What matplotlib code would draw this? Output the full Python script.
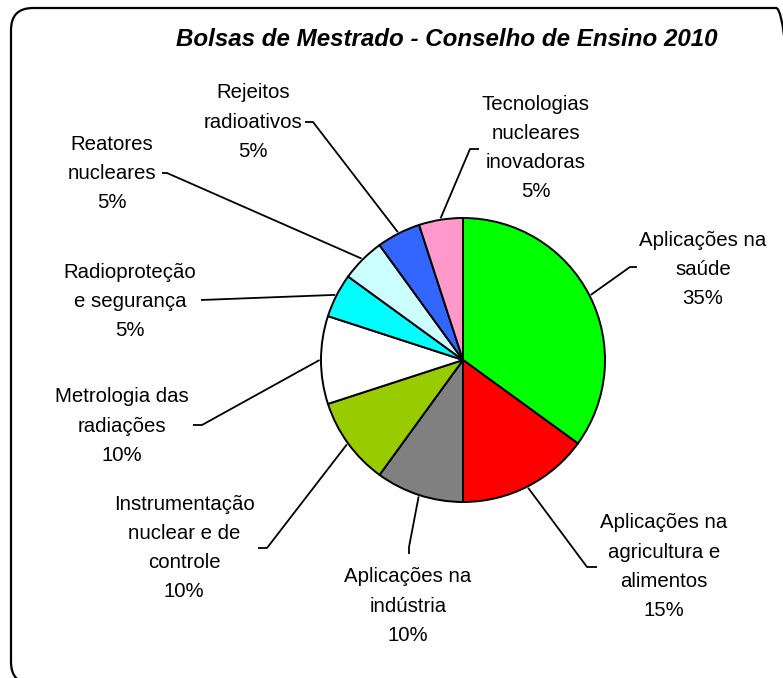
import matplotlib
matplotlib.use("Agg")
import matplotlib.pyplot as plt
from matplotlib.patches import FancyBboxPatch
import numpy as np

plt.rcParams['font.family'] = ['Liberation Sans', 'DejaVu Sans']

# data
categories = ["Aplicações na\nsaúde",
              "Aplicações na\nagricultura e\nalimentos",
              "Aplicações na\nindústria",
              "Instrumentação\nnuclear e de\ncontrole",
              "Metrologia das\nradiações",
              "Radioproteção\ne segurança",
              "Reatores\nnucleares",
              "Rejeitos\nradioativos",
              "Tecnologias\nnucleares\ninovadoras"]
shares = [35, 15, 10, 10, 10, 5, 5, 5, 5]
colors = ["#00FF00", "#FF0000", "#808080", "#99CC00", "#FFFFFF",
          "#00FFFF", "#CCFFFF", "#3366FF", "#FF99CC"]
title = "Bolsas de Mestrado - Conselho de Ensino 2010"

# layout in pixels (y measured from top)
W, H = 783, 678
def Y(y):
    return H - y

# label centre (x, y of first line), leader elbow and leader end
label_pos = [(703, 240), (664, 523), (408, 577), (184, 504), (122, 397),
             (130, 272), (112, 144), (253, 93), (536, 104)]
elbows = [(630, 267), (587, 567), (409, 547), (267, 548), (202, 425),
          (201, 300), (167, 173), (313, 122), (470, 149)]
ends = [(637, 267), (597, 567), (409, 554), (258, 548), (193, 425),
        (201, 300), (162, 173), (305, 122), (479, 149)]
line_step = 29.2

fig = plt.figure(figsize=(W / 100, H / 100), dpi=100)
ax = fig.add_axes([0, 0, 1, 1])

cx, cy, r = 463, 360, 142
wedges, _ = ax.pie(shares, colors=colors, startangle=90, counterclock=False,
                   center=(cx, Y(cy)), radius=r,
                   wedgeprops=dict(edgecolor="black", linewidth=1.4))
ax.set_xlim(0, W)
ax.set_ylim(0, H)
ax.axis("off")

for w, name, share, (lx, ly), el, en in zip(wedges, categories, shares,
                                            label_pos, elbows, ends):
    mid = np.deg2rad((w.theta1 + w.theta2) / 2)
    sx = cx + 1.01 * r * np.cos(mid)
    sy = Y(cy) + 1.01 * r * np.sin(mid)
    ax.plot([sx, el[0], en[0]], [sy, Y(el[1]), Y(en[1])],
            color="black", lw=1.3, solid_capstyle="butt")
    lines = name.split("\n") + ["%d%%" % share]
    for i, t in enumerate(lines):
        ax.text(lx, Y(ly + i * line_step), t, ha="center", va="center",
                fontsize=14.7, color="black")

ax.text(447, Y(40), title, ha="center", va="center", fontsize=17.4,
        fontweight="bold", fontstyle="italic")

# chart-area border, running just off the right and bottom edges
frame = FancyBboxPatch((11, Y(684)), 798 - 11, 684 - 8,
                       boxstyle="round,pad=0,rounding_size=22",
                       fill=False, edgecolor="black", linewidth=1.6,
                       clip_on=False)
ax.add_patch(frame)

fig.savefig("out.png", dpi=100)
